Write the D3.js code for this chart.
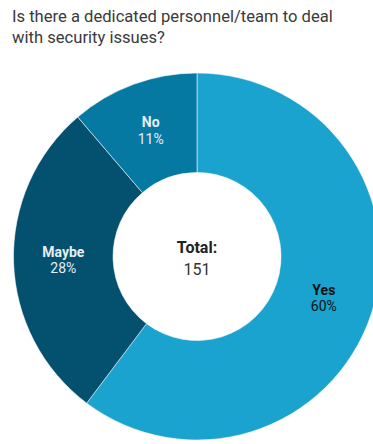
<!DOCTYPE html>
<html>
<head>
<meta charset="utf-8">
<script src="https://cdn.jsdelivr.net/npm/d3@7/dist/d3.min.js"></script>
<style>
  html, body { margin: 0; padding: 0; background: #fff; }
  svg { display: block; font-family: Roboto, "Noto Sans", sans-serif; }
</style>
</head>
<body>
<svg id="chart" width="373" height="444"></svg>
<script>
// Survey answers and respondent counts
const categories = ["Yes", "Maybe", "No"];
const counts = [91, 43, 17];
const colors = ["#1ba3cf", "#03506f", "#0679a3"];
const labelColors = ["#111111", "#e6eef3", "#e6eef3"];
const titleLines = ["Is there a dedicated personnel/team to deal", "with security issues?"];

const total = d3.sum(counts);
const data = categories.map((c, i) => ({ name: c, value: counts[i], i }));

const svg = d3.select("#chart");

// Title
svg.append("text")
  .attr("x", 12).attr("y", 22)
  .attr("fill", "#3a3a3a")
  .style("font-size", "16.6px")
  .selectAll("tspan")
  .data(titleLines)
  .join("tspan")
  .attr("x", 12)
  .attr("dy", (d, i) => i === 0 ? 0 : 20.5)
  .text(d => d);

const cx = 197, cy = 256.5;
const outerR = 183.5, innerR = 84;

const pie = d3.pie().value(d => d.value).sort(null);
const arc = d3.arc().innerRadius(innerR).outerRadius(outerR);

const g = svg.append("g").attr("transform", `translate(${cx},${cy})`);
const arcs = pie(data);

g.selectAll("path.slice")
  .data(arcs)
  .join("path")
  .attr("class", "slice")
  .attr("d", arc)
  .attr("fill", d => colors[d.data.i])
  .attr("stroke", "rgba(255,255,255,0.55)")
  .attr("stroke-width", 1);

const fmt = d3.format(".0%");
const labels = g.selectAll("g.lbl")
  .data(arcs)
  .join("g")
  .attr("class", "lbl")
  .attr("transform", d => `translate(${arc.centroid(d)})`);

labels.append("text")
  .attr("text-anchor", "middle")
  .attr("y", -4)
  .attr("fill", d => labelColors[d.data.i])
  .style("font-size", "14px")
  .style("font-weight", "bold")
  .text(d => d.data.name);

labels.append("text")
  .attr("text-anchor", "middle")
  .attr("y", 12.5)
  .attr("fill", d => labelColors[d.data.i])
  .style("font-size", "14px")
  .text(d => fmt(Math.floor(d.data.value / total * 100) / 100));

// Centre total
g.append("text")
  .attr("text-anchor", "middle")
  .attr("y", -3.5)
  .attr("fill", "#222")
  .style("font-size", "16px")
  .style("font-weight", "bold")
  .text("Total:");
g.append("text")
  .attr("text-anchor", "middle")
  .attr("y", 18.5)
  .attr("fill", "#333")
  .style("font-size", "16px")
  .text(total);
</script>
</body>
</html>
